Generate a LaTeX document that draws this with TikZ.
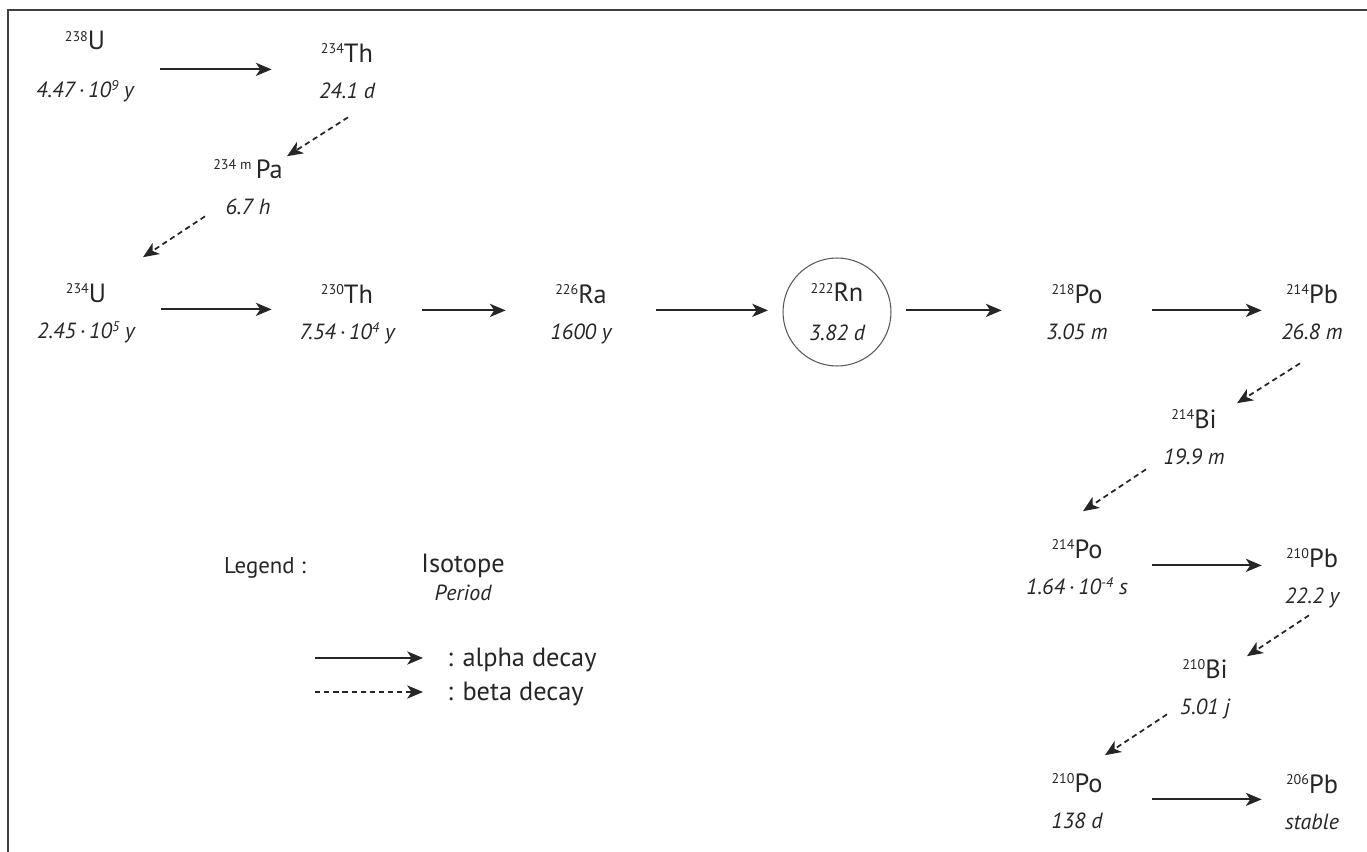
\documentclass[tikz,border=0pt]{standalone}
\usepackage{fontspec}
\setmainfont{PT Sans}
\usetikzlibrary{arrows.meta,positioning}
\tikzset{>={Stealth[length=9pt,width=7.5pt,inset=2.5pt]}}

\newcommand{\iso}[2]{{\fontsize{8}{8}\selectfont\raisebox{5pt}{#1}}#2}
\newcommand{\pow}[1]{{\fontsize{8}{8}\selectfont\raisebox{4pt}{#1}}}

\begin{document}
\begin{tikzpicture}[x=0.02cm,y=-0.02cm,
isotope/.style={anchor=base, inner sep=0pt, text height=10.5pt, text depth=4pt, minimum width=3cm, font=\fontsize{15}{18}\selectfont, text=black!85},
lead/.style={isotope, minimum width=2cm},
period/.style={inner sep=0pt, text height=9pt, text depth=3pt, font=\fontsize{12.5}{15}\selectfont\itshape, text=black!85},
radon/.style={circle, draw=black!65, line width=0.6pt, minimum size=2.16cm, inner sep=0pt, outer sep=0.3cm, align=center, font=\fontsize{15}{18}\selectfont, text=black!85},
legendtext/.style={anchor=base, inner sep=0pt, font=\fontsize{15}{18}\selectfont, text=black!85},
alphadecay/.style={->, line width=1.1pt, black!85},
betadecay/.style={->, line width=1pt, black!85, dash pattern=on 3pt off 2.2pt},
node distance=7.5pt
]
\useasboundingbox (0,0) rectangle (1367,852);
\draw[black!75, line width=1pt] (8,852) -- (8,10) -- (1367,10);

%Nodes
\node[isotope](Uranium 238) at (85,50) {\iso{238}{U}};
\node[period](Uranium 238 period)[below=13.5pt of Uranium 238]{4.47\,·\,10\pow{9} y};
\node[isotope](Thorium 234) at (347,62) {\iso{234}{Th}};
\node[period](Thorium 234 period)[below=of Thorium 234]{24.1 d};
\node[isotope](Protactinium 234m) at (248,178) {\iso{234 m}{\,Pa}};
\node[period](Protactinium 234m period)[below=of Protactinium 234m]{6.7 h};

\node[isotope](Uranium 234) at (86,302) {\iso{234}{U}};
\node[period](Uranium 234 period)[below=of Uranium 234]{2.45\,·\,10\pow{5} y};
\node[isotope](Thorium 230) at (347,303) {\iso{230}{Th}};
\node[period](Thorium 230 period)[below=of Thorium 230]{7.54\,·\,10\pow{4} y};
\node[isotope](Radium 226) at (581,303) {\iso{226}{Ra}};
\node[period](Radium 226 period)[below=of Radium 226]{1600 y};
\node[radon](Radon 222) at (837,312) {\iso{222}{Rn}\\[4pt]{\fontsize{12.5}{15}\selectfont\itshape 3.82 d}};
\node[isotope](Polonium 218) at (1077,303) {\iso{218}{Po}};
\node[period](Polonium 218 period)[below=of Polonium 218]{3.05 m};
\node[lead](Lead 214) at (1312,303) {\iso{214}{Pb}};
\node[period](Lead 214 period)[below=of Lead 214]{26.8 m};

\node[isotope](Bismuth 214) at (1194,428) {\iso{214}{Bi}};
\node[period](Bismuth 214 period)[below=of Bismuth 214]{19.9 m};
\node[isotope](Polonium 214) at (1077,558) {\iso{214}{Po}};
\node[period](Polonium 214 period)[below=of Polonium 214]{1.64\,·\,10\pow{-4} s};
\node[lead](Lead 210) at (1312,567) {\iso{210}{Pb}};
\node[period](Lead 210 period)[below=of Lead 210]{22.2 y};
\node[isotope](Bismuth 210) at (1205,678) {\iso{210}{Bi}};
\node[period](Bismuth 210 period)[below=of Bismuth 210]{5.01 j};
\node[isotope](Polonium 210) at (1077,792) {\iso{210}{Po}};
\node[period](Polonium 210 period)[below=of Polonium 210]{138 d};
\node[lead](Lead 206) at (1312,793) {\iso{206}{Pb}};
\node[period](Lead 206 period)[below=of Lead 206]{stable};

%Legend
\node[legendtext, font=\fontsize{13}{16}\selectfont](Legend) at (265,573) {Legend :};
\node[legendtext](Legend isotope) at (463,572) {Isotope};
\node[period, anchor=base](Legend period) at (463,600) {Period};
\node[legendtext, anchor=base west](Legend alpha) at (447,666) {: alpha decay};
\node[legendtext, anchor=base west](Legend beta) at (447,700) {: beta decay};
\coordinate (Legend alpha tail) at (315,658);
\coordinate (Legend beta tail) at (315,692);

%Lines
\draw[alphadecay] (Thorium 234.south west -| Uranium 238.east) -- (Thorium 234.south west);
\draw[alphadecay] (Uranium 234.south east) -- (Uranium 234.south east -| Thorium 230.west);
\draw[alphadecay] (Thorium 230.south east) -- (Thorium 230.south east -| Radium 226.west);
\draw[alphadecay] (Radium 226.south east) -- (Radium 226.south east -| Radon 222.west);
\draw[alphadecay] (Polonium 218.south west -| Radon 222.east) -- (Polonium 218.south west);
\draw[alphadecay] (Polonium 218.south east) -- (Polonium 218.south east -| Lead 214.west);
\draw[alphadecay] (Polonium 214.south east) -- (Polonium 214.south east -| Lead 210.west);
\draw[alphadecay] (Polonium 210.south east) -- (Polonium 210.south east -| Lead 206.west);

\draw[betadecay] ([shift={(1,13)}]Thorium 234 period.south) -- ([shift={(39,-3)}]Protactinium 234m.north);
\draw[betadecay] ([shift={(-43,-4)}]Protactinium 234m period.south) -- ([shift={(57,-26)}]Uranium 234.north);
\draw[betadecay] ([shift={(-12,18)}]Lead 214 period.south) -- ([shift={(43,-6)}]Bismuth 214.north);
\draw[betadecay] ([shift={(-48,-1)}]Bismuth 214 period.south) -- ([shift={(6,-28)}]Polonium 214.north);
\draw[betadecay] ([shift={(-3,6)}]Lead 210 period.south) -- ([shift={(42,-3)}]Bismuth 210.north);
\draw[betadecay] ([shift={(-38,-6)}]Bismuth 210 period.south) -- ([shift={(28,-18)}]Polonium 210.north);

\draw[alphadecay, shorten >=0.48cm] (Legend alpha tail) -- (Legend alpha tail -| Legend alpha.west);
\draw[betadecay, shorten >=0.48cm] (Legend beta tail) -- (Legend beta tail -| Legend beta.west);
\end{tikzpicture}
\end{document}
